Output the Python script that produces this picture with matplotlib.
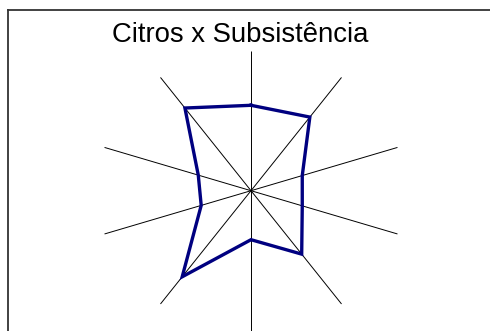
import numpy as np
import matplotlib
matplotlib.use("Agg")
import matplotlib.pyplot as plt
from matplotlib.lines import Line2D

title = "Citros x Subsistência"
categories = [f"C{i+1}" for i in range(10)]
values = [0.61, 0.65, 0.35, 0.35, 0.56, 0.35, 0.76, 0.34, 0.36, 0.73]

W, H = 490, 331
fig = plt.figure(figsize=(W / 100, H / 100), dpi=100)
ax = fig.add_axes([0, 0, 1, 1])
ax.axis("off")

cx, cy = 251, 190.7
sx, sy = 154, 140
ax.set_xlim(-cx / sx, (W - cx) / sx)
ax.set_ylim(-(H - cy) / sy, cy / sy)

n = len(categories)
ang = np.arange(n) * 2 * np.pi / n
ux, uy = np.sin(ang), np.cos(ang)
for x, y in zip(ux, uy):
    ax.plot([0, x], [0, y], color="black", lw=0.7, solid_capstyle="butt")

v = np.array(values)
px = np.append(v * ux, v[0] * ux[0])
py = np.append(v * uy, v[0] * uy[0])
ax.plot(px, py, color="#000080", lw=2.4, solid_joinstyle="miter")

fig.text(240 / W, 1 - 35 / H, title, ha="center", va="center",
         fontsize=19.8, family=["Liberation Sans", "DejaVu Sans"])

# outer frame (left and top edges visible)
fig.add_artist(Line2D([7.5 / W, 7.5 / W], [0, 1 - 10 / H], transform=fig.transFigure,
                      color="#333333", lw=1.3))
fig.add_artist(Line2D([7.5 / W, 1], [1 - 10 / H, 1 - 10 / H], transform=fig.transFigure,
                      color="#333333", lw=1.3))

fig.savefig("out.png", dpi=100)
